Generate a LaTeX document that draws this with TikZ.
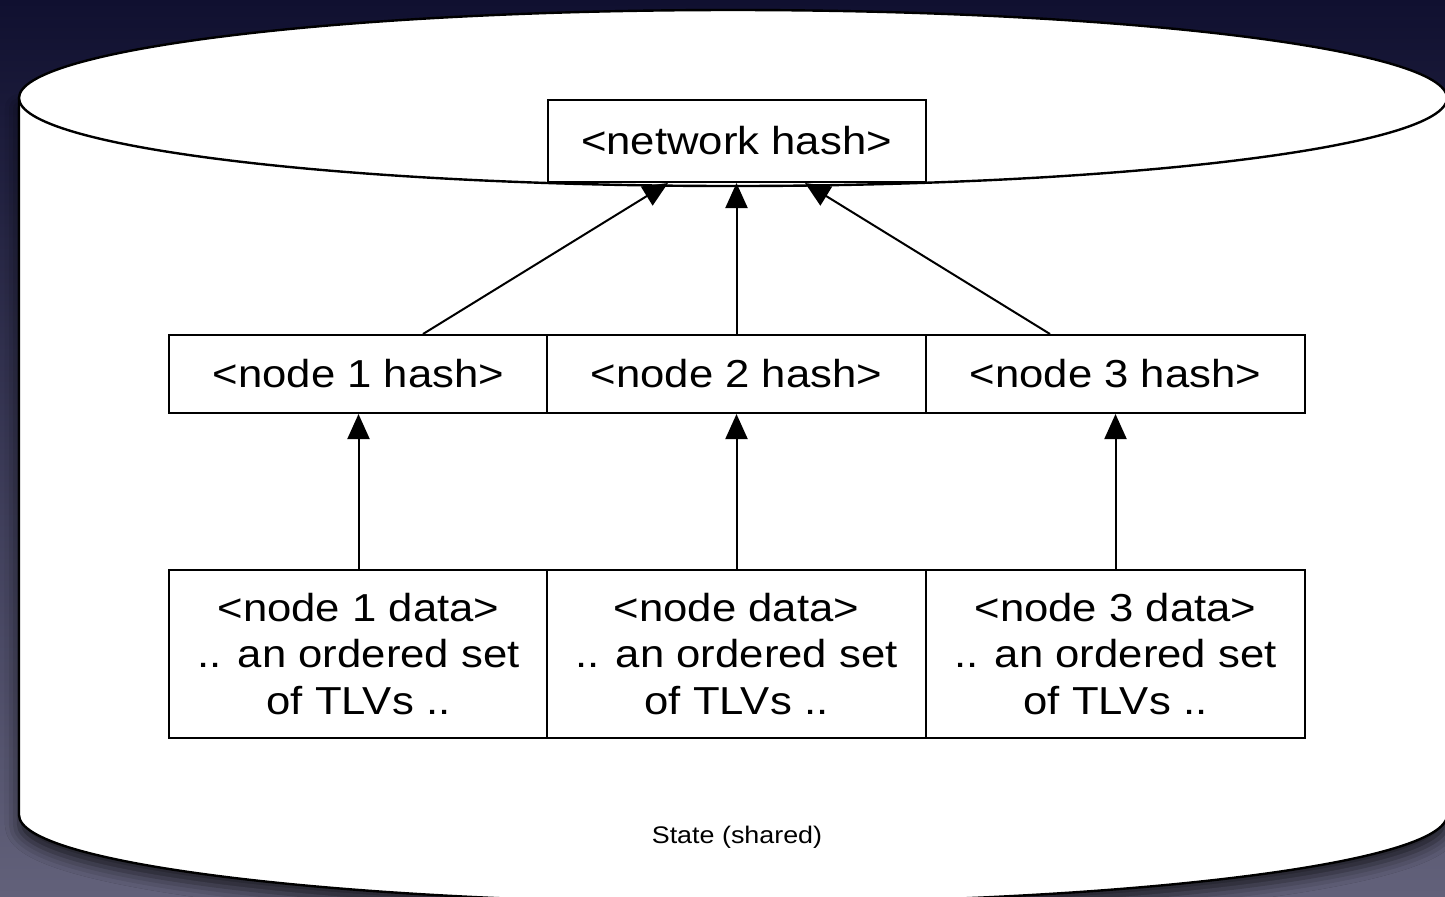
\documentclass[tikz,border=0pt]{standalone}
\usepackage{fontspec}
\setmainfont{Liberation Sans}[FakeStretch=1.12]
\usetikzlibrary{arrows.meta,calc,shadows.blur}

\definecolor{bgtop}{RGB}{16,16,48}
\definecolor{bgbot}{RGB}{98,97,122}

\tikzset{
  x=0.5pt, y=-0.5pt,
  cell/.style={draw=black, line width=1pt, fill=white, inner sep=0pt,
    font=\fontsize{19.5}{23.3}\selectfont, align=center},
  hashcell/.style={cell, minimum width=189.5pt, minimum height=39pt},
  datacell/.style={cell, minimum width=189.5pt, minimum height=84pt},
  link/.style={draw=black, line width=1pt,
    -{Triangle[length=12.5pt,width=11pt,fill=black]}},
  drum/.style={draw=black, line width=1.2pt, fill=white},
}

\begin{document}
\begin{tikzpicture}
  \useasboundingbox (0,0) rectangle (1445,896);
  \shade[top color=bgtop, bottom color=bgbot] (0,0) rectangle (1445,896);

  % storage drum: side walls and rounded base
  \path[drum, blur shadow={shadow xshift=0pt, shadow yshift=-5pt,
        shadow blur radius=7pt, shadow opacity=70}]
    (19,98) -- (19,815)
    .. controls (19,863.6) and (338.7,903) .. (733,903)
    .. controls (1127.3,903) and (1447,863.6) .. (1447,815)
    -- (1447,98) -- cycle;
  % drum lid
  \draw[line width=1.2pt, fill=white] (733,98) ellipse [x radius=357pt, y radius=44pt];

  % hash tree
  \node[hashcell, minimum width=189pt, minimum height=41pt] (net) at (736.5,141) {<network hash>};

  \node[hashcell] (h1) at (358.5,374) {<node 1 hash>};
  \node[hashcell] (h2) at (736.5,374) {<node 2 hash>};
  \node[hashcell] (h3) at (1115.5,374) {<node 3 hash>};

  \node[datacell] (d1) at (358.5,654) {<node 1 data>\\.. an ordered set\\of TLVs ..};
  \node[datacell] (d2) at (736.5,654) {<node data>\\.. an ordered set\\of TLVs ..};
  \node[datacell] (d3) at (1115.5,654) {<node 3 data>\\.. an ordered set\\of TLVs ..};

  \draw[link] (d1.north) -- (h1.south);
  \draw[link] (d2.north) -- (h2.south);
  \draw[link] (d3.north) -- (h3.south);

  \draw[link] ([xshift=32.25pt]h1.north) -- ([xshift=-34.25pt]net.south);
  \draw[link] (h2.north) -- (net.south);
  \draw[link] ([xshift=-32.75pt]h3.north) -- ([xshift=34.25pt]net.south);

  \node[font=\fontsize{12}{14}\selectfont] (label) at (737,837) {State (shared)};
\end{tikzpicture}
\end{document}
